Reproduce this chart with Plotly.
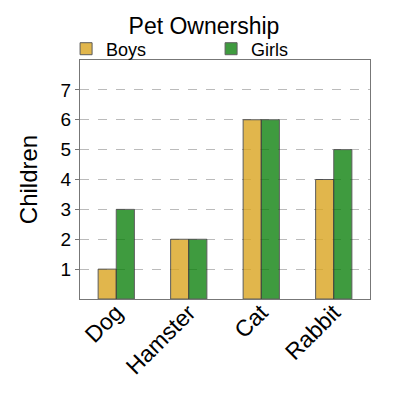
import plotly.graph_objects as go

pets = ["Dog", "Hamster", "Cat", "Rabbit"]
boys = [1, 2, 6, 4]
girls = [3, 2, 6, 5]
y_ticks = [1, 2, 3, 4, 5, 6, 7]

fig = go.Figure()
fig.add_trace(go.Bar(x=pets, y=boys, name="Boys", marker_color="#DAA520", opacity=0.8,
                     marker_line=dict(color="#333333", width=1)))
fig.add_trace(go.Bar(x=pets, y=girls, name="Girls", marker_color="#0A7F0A", opacity=0.78,
                     marker_line=dict(color="#333333", width=1)))

# page body has an 8px margin, so the figure is drawn 392 wide
fig.update_layout(
    width=392, height=392,
    margin=dict(l=72, r=30, t=52, b=101, autoexpand=False),
    paper_bgcolor="white", plot_bgcolor="white",
    font=dict(family="Liberation Sans, Arial", color="black"),
    title=dict(text="Pet Ownership", x=0.5, xanchor="center", y=0.954, yanchor="middle",
               font=dict(size=23)),
    barmode="group", bargap=0.5, bargroupgap=0,
    legend=dict(orientation="h", x=-0.048, xanchor="left", y=1.046, yanchor="middle",
                entrywidth=100, font=dict(size=18), itemwidth=30,
                bgcolor="rgba(0,0,0,0)"),
    showlegend=True,
)
fig.update_xaxes(showline=True, linecolor="#777777", linewidth=1, mirror=True,
                 tickangle=-45, tickfont=dict(size=23), ticks="", showgrid=False,
                 ticklabelstandoff=-10)
fig.update_yaxes(range=[0, 8], tickvals=y_ticks, showline=True, linecolor="#777777",
                 linewidth=1, mirror=True, showgrid=True, gridcolor="#BBBBBB",
                 griddash="dash", ticks="outside", ticklen=4, tickcolor="#777777",
                 tickfont=dict(size=19), zeroline=False,
                 title=dict(text="Children", font=dict(size=24), standoff=16))

fig.write_html("out.html")
